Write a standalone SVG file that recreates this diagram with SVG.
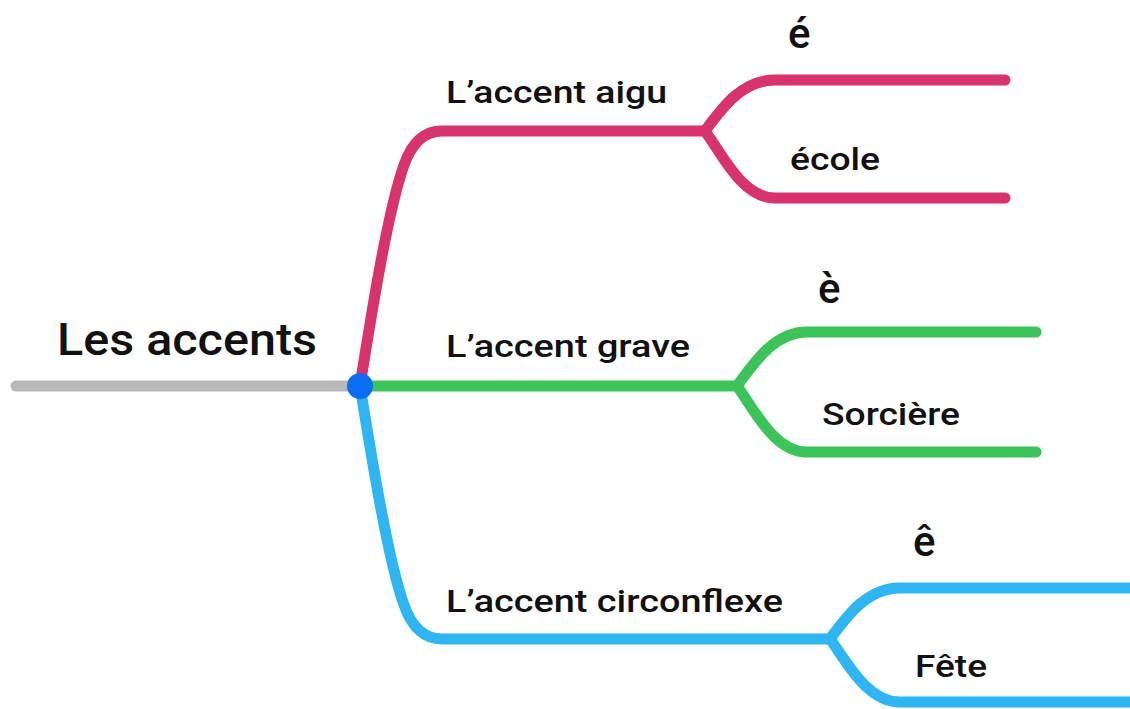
<svg xmlns="http://www.w3.org/2000/svg" width="1130" height="709" viewBox="0 0 1130 709">
<style>
.ln{fill:none;stroke-width:11;stroke-linecap:round;stroke-linejoin:round}
.pk{stroke:#D8336C}.gr{stroke:#3CC45A}.bl{stroke:#2DB6F2}.gy{stroke:#B9B9B9}
text{font-family:Roboto,"Liberation Sans",Arial,sans-serif;font-weight:500;fill:#111}
.t1{font-size:44px;font-weight:500}
.t2{font-size:31px}
.t3{font-size:42px;font-weight:500}
</style>
<rect width="1130" height="709" fill="#fff"/>
<g id="connectors">
<path class="ln gy" d="M16,386 L360,386"/>
<path class="ln pk" d="M360,386 C372,310 388,210 404,165 Q416,131 442,131 L705,131"/>
<path class="ln pk" d="M705,131 C722,108 742,80 775,80 L1005,80"/>
<path class="ln pk" d="M705,131 C722,154 742,198 775,198 L1005,198"/>
<path class="ln gr" d="M360,386 L737,386"/>
<path class="ln gr" d="M737,386 C754,363 774,332 807,332 L1036,332"/>
<path class="ln gr" d="M737,386 C754,409 774,452 807,452 L1036,452"/>
<path class="ln bl" d="M360,386 C372,460 388,560 404,605 Q416,639 442,639 L830,639"/>
<path class="ln bl" d="M830,639 C847,616 867,588 900,588 L1140,588"/>
<path class="ln bl" d="M830,639 C847,662 867,702 900,702 L1140,702"/>
</g>
<g id="root"><text class="t1" x="57" y="355" textLength="260" lengthAdjust="spacingAndGlyphs">Les accents</text><circle cx="360" cy="386" r="13" fill="#0B6EF2"/></g>
<g id="aigu"><text class="t2" x="446" y="103" textLength="221" lengthAdjust="spacingAndGlyphs">L’accent aigu</text></g>
<g id="e-aigu"><text class="t3" x="788" y="48">é</text></g>
<g id="ecole"><text class="t2" x="790" y="170" textLength="90" lengthAdjust="spacingAndGlyphs">école</text></g>
<g id="grave"><text class="t2" x="446" y="357" textLength="244" lengthAdjust="spacingAndGlyphs">L’accent grave</text></g>
<g id="e-grave"><text class="t3" x="818" y="303">è</text></g>
<g id="sorciere"><text class="t2" x="822" y="425" textLength="138" lengthAdjust="spacingAndGlyphs">Sorcière</text></g>
<g id="circonflexe"><text class="t2" x="446" y="612" textLength="337" lengthAdjust="spacingAndGlyphs">L’accent circonflexe</text></g>
<g id="e-circ"><text class="t3" x="913" y="556">ê</text></g>
<g id="fete"><text class="t2" x="915" y="677" textLength="72" lengthAdjust="spacingAndGlyphs">Fête</text></g>
</svg>
